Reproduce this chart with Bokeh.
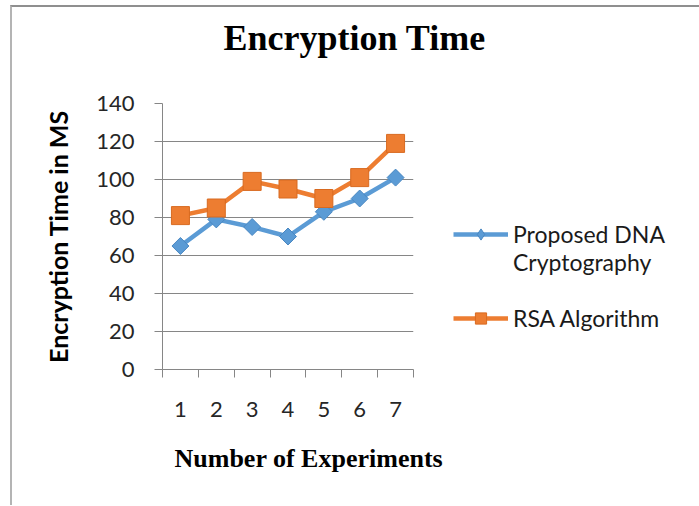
import math
from bokeh.plotting import figure
from bokeh.models import Legend, LegendItem, FixedTicker, Title, Range1d
from bokeh.embed import file_html
from bokeh.resources import INLINE

# ---- data ----
experiments = [1, 2, 3, 4, 5, 6, 7]
x_labels = ["1", "2", "3", "4", "5", "6", "7"]
dna_times = [65, 79, 75, 70, 83, 90, 101]
rsa_times = [81, 85, 99, 95, 90, 101, 119]
y_ticks = [0, 20, 40, 60, 80, 100, 120, 140]
dna_name_lines = ["Proposed DNA", "Cryptography"]
rsa_name = "RSA Algorithm"

BLUE = "#5B9BD5"
ORANGE = "#ED7D31"
GRAY = "#868686"

p = figure(frame_width=251, frame_height=266,
           min_border_left=150, min_border_right=282,
           min_border_top=96, min_border_bottom=136,
           x_range=Range1d(0.5, 7.5), y_range=Range1d(0, 140),
           output_backend="svg", toolbar_location=None)
p.styles = {"border-top": "2px solid #8f8f8f", "border-left": "2px solid #b4b4b4",
            "border-right": "1px solid #cccccc", "margin-left": "10px", "margin-top": "5px"}
p.outline_line_color = None
p.background_fill_color = "white"
p.border_fill_color = "white"

title = Title(text="Encryption Time", align="left", offset=61, standoff=0,
              vertical_align="bottom",
              padding=dict(left=0, right=0, top=0, bottom=46),
              text_font="Liberation Serif", text_font_size="36px",
              text_font_style="bold", text_color="black")
p.add_layout(title, "above")

# x axis: labels at category centres, ticks at boundaries
xt = FixedTicker(ticks=experiments, minor_ticks=[e - 0.5 for e in experiments] + [experiments[-1] + 0.5])
p.xaxis.ticker = xt
p.xaxis.major_label_overrides = {e: l for e, l in zip(experiments, x_labels)}
p.xaxis.major_tick_line_color = None
p.xaxis.minor_tick_line_color = GRAY
p.xaxis.minor_tick_in = 0
p.xaxis.minor_tick_out = 8
p.xaxis.axis_line_color = GRAY
p.xaxis.major_label_standoff = 24
p.xaxis.major_label_text_font = "Lato"
p.xaxis.major_label_text_font_size = "22px"
p.xaxis.major_label_text_color = "#262626"

yt = FixedTicker(ticks=y_ticks)
p.yaxis.ticker = yt
p.yaxis.major_tick_in = 0
p.yaxis.major_tick_out = 8
p.yaxis.major_tick_line_color = GRAY
p.yaxis.minor_tick_line_color = None
p.yaxis.axis_line_color = GRAY
p.yaxis.major_label_standoff = 20
p.yaxis.major_label_text_font = "Lato"
p.yaxis.major_label_text_font_size = "22px"
p.yaxis.major_label_text_color = "#262626"
p.yaxis.axis_label = "Encryption Time in MS"
p.yaxis.axis_label_text_font = "Lato"
p.yaxis.axis_label_text_font_size = "25px"
p.yaxis.axis_label_text_font_style = "bold"
p.yaxis.axis_label_text_color = "black"
p.yaxis.axis_label_standoff = 20

p.xgrid.grid_line_color = None
p.ygrid.ticker = yt
p.ygrid.grid_line_color = GRAY

xlab = Title(text="Number of Experiments", align="left", offset=12, standoff=45,
             text_font="Liberation Serif", text_font_size="26px",
             text_font_style="bold", text_color="black")
p.add_layout(xlab, "below")

# ---- series ----
dna_line = p.line(experiments, dna_times, line_color=BLUE, line_width=4.5, line_join="round")
dna_pts = p.scatter(experiments, dna_times, marker="square", angle=math.pi / 4, size=12,
                    fill_color=BLUE, line_color="#4a88c2", line_width=1)
rsa_line = p.line(experiments, rsa_times, line_color=ORANGE, line_width=4.5, line_join="round")
rsa_pts = p.scatter(experiments, rsa_times, marker="square", size=18,
                    fill_color=ORANGE, line_color="#d86a20", line_width=1)
dummy = p.line(x=[], y=[], line_alpha=0)
# hidden diamond renderer used only as the legend swatch for the DNA series
dna_key = p.scatter(experiments, dna_times, marker="diamond", size=14,
                    fill_color=BLUE, line_color="#4a88c2", line_width=1, visible=False)

legend = Legend(items=[LegendItem(label=dna_name_lines[0], renderers=[dna_line, dna_key]),
                       LegendItem(label=dna_name_lines[1], renderers=[dummy]),
                       LegendItem(label="", renderers=[dummy]),
                       LegendItem(label=rsa_name, renderers=[rsa_line, rsa_pts])],
                location=(40, 37), padding=0, margin=30, spacing=0,
                glyph_width=55, glyph_height=28, label_height=28, label_standoff=5,
                border_line_color=None, background_fill_alpha=0,
                label_text_font="Lato", label_text_font_size="23px",
                label_text_color="#1a1a1a")
p.add_layout(legend, "right")

open("out.html", "w").write(file_html(p, INLINE))
